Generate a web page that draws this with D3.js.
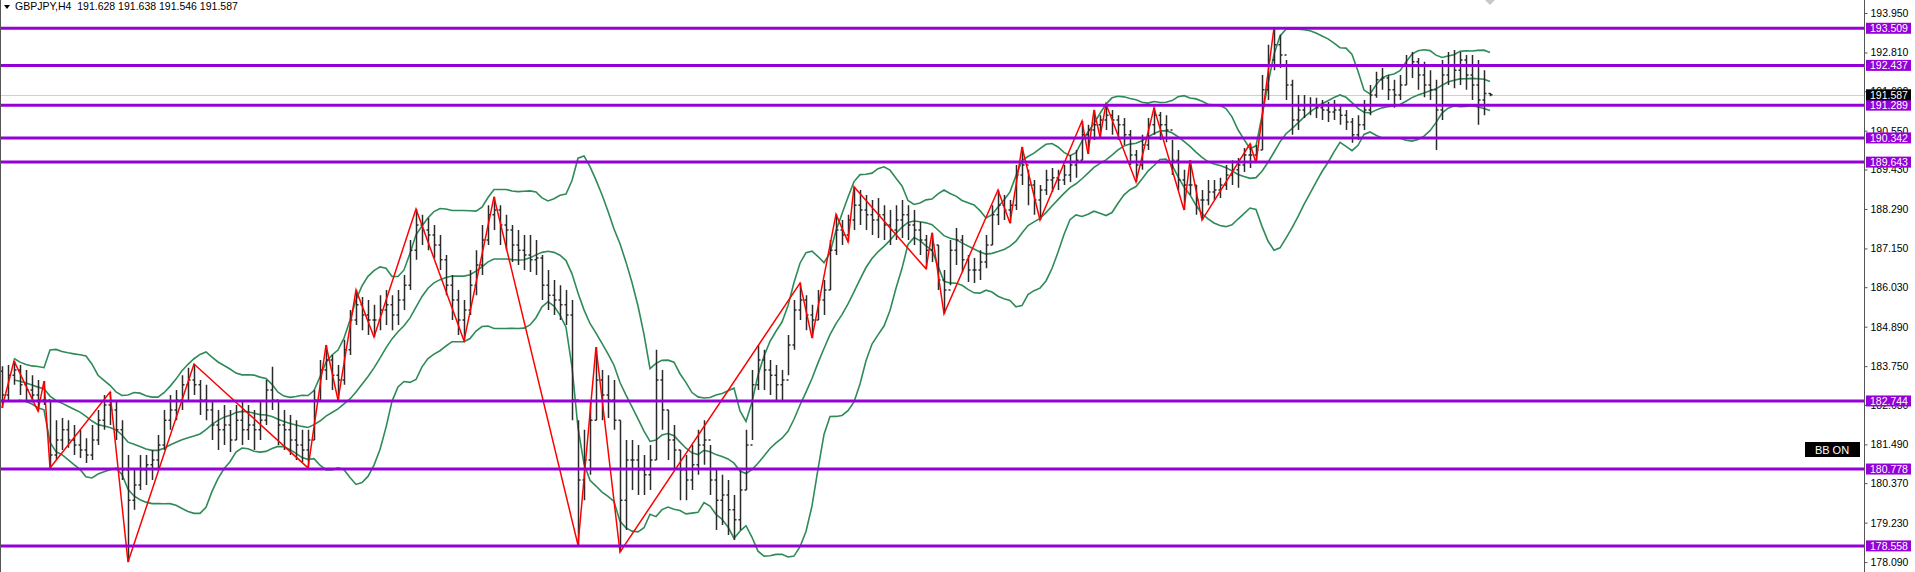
<!DOCTYPE html>
<html>
<head>
<meta charset="utf-8">
<script src="https://cdn.jsdelivr.net/npm/d3@7"></script>
<style>
    html, body { margin: 0; padding: 0; background: #fff; overflow: hidden; }
    svg { display: block; font-family: "Liberation Sans", Arial, sans-serif; }
</style>
</head>
<body>
<div id="Chart"></div>
<script>
var symbolTitle = "GBPJPY,H4";
var lastQuote = [191.628, 191.638, 191.546, 191.587];
var firstOpen = 183.60;

// H4 bars, oldest first
var barHigh = [183.75,183.78,183.90,183.78,183.64,183.49,183.35,183.32,182.77,182.19,
    182.25,182.19,182.05,181.91,181.67,182.05,182.48,182.92,183.00,182.77,
    182.19,181.18,180.75,181.18,181.18,181.33,181.76,182.48,182.92,183.06,
    183.49,183.70,183.81,183.35,183.21,182.77,182.48,182.63,182.48,182.63,
    182.77,182.63,182.48,182.77,183.35,183.73,182.77,182.48,182.34,182.19,
    181.91,181.91,183.06,183.93,184.36,184.07,183.78,184.51,185.37,185.95,
    185.75,185.66,185.52,185.80,185.95,185.80,185.95,186.38,187.39,188.29,
    188.12,188.03,187.83,187.54,186.96,186.38,185.95,185.66,186.53,187.10,
    187.83,188.40,188.64,188.40,188.12,187.83,187.68,187.54,187.54,187.39,
    186.96,186.53,186.24,186.09,185.95,185.66,182.19,181.91,182.77,184.30,
    183.64,183.49,183.35,182.19,181.62,181.62,181.47,181.18,181.47,184.22,
    183.64,182.48,182.05,181.33,181.18,181.47,181.91,182.19,181.47,180.75,
    180.61,180.46,180.03,180.75,181.91,183.64,184.36,184.22,183.93,183.78,
    183.64,184.65,185.66,186.15,185.80,185.52,185.95,186.24,187.39,188.14,
    187.97,188.12,188.93,188.84,188.69,188.55,188.61,188.40,188.26,188.40,
    188.55,188.40,188.26,187.91,187.54,187.60,187.25,186.53,187.39,187.74,
    187.54,186.96,186.87,187.10,187.54,188.40,188.84,188.69,188.55,189.56,
    190.08,189.42,189.13,188.98,189.42,189.47,189.42,189.56,189.85,189.99,
    190.83,190.72,191.15,191.00,191.32,191.15,191.00,190.92,190.57,189.99,
    190.43,190.92,191.21,191.09,191.00,190.28,189.99,189.42,189.70,188.98,
    188.84,189.13,189.13,189.19,189.56,189.70,189.76,190.05,190.17,190.14,
    192.16,193.03,193.52,193.32,192.59,192.02,191.58,191.58,191.52,191.50,
    191.44,191.38,191.44,191.32,191.15,190.92,191.00,191.44,191.87,192.25,
    192.36,192.16,192.02,192.16,192.74,192.82,192.65,192.54,192.30,192.02,
    192.59,192.82,192.88,192.82,192.74,192.74,192.59,192.30,191.638];

var barLow = [182.54,182.77,183.21,182.92,182.77,182.71,182.45,182.63,180.81,181.04,
    181.33,181.39,181.18,181.10,180.95,181.04,181.47,181.91,182.05,181.62,
    180.46,178.09,179.60,180.17,180.32,180.46,180.75,181.33,181.91,182.19,
    182.48,182.77,182.92,182.34,182.19,181.62,181.33,181.47,181.27,181.62,
    181.47,181.62,181.33,181.62,182.05,182.48,181.47,181.33,181.18,181.04,
    180.98,180.81,181.62,182.77,183.35,183.06,182.77,183.21,184.07,184.94,
    184.79,184.65,184.59,184.79,184.94,184.79,184.94,185.37,185.95,186.82,
    187.25,187.10,186.87,186.53,185.80,185.08,184.65,184.48,185.23,185.80,
    186.38,187.25,187.68,187.25,187.10,186.76,186.67,186.53,186.47,186.38,
    185.66,185.37,185.23,185.08,184.94,182.19,178.58,179.88,180.61,182.19,
    182.19,182.25,181.91,178.38,179.02,180.17,180.03,180.03,180.17,181.04,
    181.91,181.04,180.75,179.88,179.88,180.17,180.61,180.90,180.03,179.02,
    179.16,178.87,178.73,179.02,180.17,181.62,183.06,183.06,182.92,182.77,
    182.77,183.49,184.22,185.08,184.79,184.56,185.08,185.23,185.95,186.96,
    187.25,187.34,187.68,187.83,187.68,187.54,187.45,187.39,187.25,187.39,
    187.45,187.39,187.25,186.96,186.56,186.76,185.95,185.26,186.09,186.67,
    186.47,186.18,186.15,186.24,186.58,187.25,187.83,187.97,187.88,188.26,
    188.98,188.40,188.12,187.97,188.69,188.78,188.84,188.98,189.07,189.19,
    189.70,189.88,190.28,190.37,190.57,190.43,190.28,190.14,189.56,189.07,
    189.42,189.99,190.43,190.28,190.22,189.27,188.84,188.26,188.69,188.12,
    187.97,188.40,188.55,188.61,188.84,188.98,188.90,189.36,189.47,189.62,
    189.99,191.44,192.30,192.36,191.44,190.43,190.57,190.92,191.00,190.92,
    190.86,190.80,190.86,190.72,190.57,190.20,190.28,190.57,191.00,191.50,
    191.73,191.44,191.21,191.44,191.87,192.07,191.73,191.52,191.44,189.99,
    190.86,191.87,191.78,191.87,191.73,191.44,190.72,191.00,191.546];

var barClose = [182.92,183.49,183.64,183.21,183.06,182.92,182.77,182.77,181.18,181.62,
    181.91,181.62,181.47,181.33,181.18,181.62,182.19,182.63,182.48,181.91,
    180.75,179.88,180.32,180.75,180.90,181.04,181.47,182.19,182.48,182.77,
    183.21,183.35,183.21,182.77,182.48,182.05,181.91,182.05,181.62,182.19,
    181.91,182.05,181.91,182.19,183.06,182.77,182.05,181.91,181.62,181.47,
    181.33,181.62,182.77,183.64,183.93,183.49,183.35,184.22,185.08,185.52,
    185.23,185.08,185.08,185.37,185.52,185.23,185.66,186.09,187.10,187.83,
    187.68,187.54,187.25,186.82,186.09,185.66,185.08,185.37,186.09,186.67,
    187.39,188.12,188.26,187.83,187.68,187.25,187.10,186.96,186.82,186.87,
    186.09,185.80,185.66,185.52,185.23,182.77,180.46,181.04,182.19,183.35,
    182.92,182.77,182.19,179.88,181.04,181.04,180.75,180.61,181.04,183.35,
    182.48,181.62,181.33,180.75,180.46,180.90,181.47,181.62,180.46,179.88,
    180.03,179.60,179.31,180.17,181.47,183.21,183.93,183.64,183.49,183.21,
    183.35,184.36,185.37,185.66,185.23,185.08,185.66,185.95,187.10,187.68,
    187.54,187.97,188.40,188.26,188.12,187.97,188.12,187.83,187.68,187.97,
    188.12,187.83,187.68,187.39,187.10,187.25,186.24,185.95,187.10,187.39,
    186.82,186.53,186.53,186.76,187.25,188.12,188.40,188.26,188.40,189.27,
    189.56,188.98,188.55,188.84,189.13,189.19,189.13,189.27,189.56,189.70,
    190.43,190.57,190.72,190.86,191.00,190.86,190.72,190.43,189.85,189.56,
    190.14,190.72,191.00,190.72,190.57,189.70,189.13,188.98,188.98,188.55,
    188.55,188.78,188.84,188.98,189.27,189.42,189.56,189.85,189.85,189.99,
    191.73,192.59,193.03,192.74,191.87,190.86,191.15,191.29,191.29,191.21,
    191.15,191.09,191.15,191.00,190.80,190.43,190.72,191.15,191.58,192.02,
    192.07,191.73,191.58,191.87,192.45,192.54,192.16,191.87,191.73,191.15,
    192.16,192.45,192.30,192.59,192.16,191.87,191.44,191.628,191.587];

// zigzag turning points: bar index and whether it is a high or a low
var zzBars  = [0,2,6,7,8,18,21,32,51,54,56,59,62,69,77,82,96,99,103,133,135,139,141,142,
    154,155,157,166,168,170,173,180,181,182,183,184,189,192,197,198,200,208,209,212];
var zzKinds = ["L","H","L","H","L","H","L","H","L","H","L","H","L","H","L","H","L","H","L","H","L","H","L","H",
    "L","H","L","H","L","H","L","H","L","H","L","H","L","H","L","H","L","H","L","H"];

// horizontal levels
var levelPrices = [193.509, 192.437, 191.289, 190.342, 189.643, 182.744, 180.778, 178.558];

// price scale labels
var tickLabels = ["193.950","192.810","191.690","190.550","189.430","188.290","187.150","186.030",
    "184.890","183.750","182.630","181.490","180.370","179.230","178.090"];

var bbPeriod = 14, bbDeviation = 2;
</script>
<script>
(function() {
    var width = 1915,
        height = 572,
        plotRight = 1864;

    var svg = d3.select("#Chart").append("svg")
        .attr("width", width)
        .attr("height", height);

    var yScale = d3.scaleLinear()
        .domain([178.09, 193.95])
        .range([562.1, 13.0]);

    var xScale = d3.scaleLinear()
        .domain([0, barClose.length - 1])
        .range([2, 1490]);

    svg.append("clipPath").attr("id", "plotClip")
        .append("rect")
        .attr("x", 0).attr("y", 0)
        .attr("width", plotRight).attr("height", height);

    var plot = svg.append("g").attr("clip-path", "url(#plotClip)");

    // current bid line
    plot.append("line")
        .attr("x1", 0).attr("x2", plotRight)
        .attr("y1", Math.round(yScale(lastQuote[3])) + 0.5)
        .attr("y2", Math.round(yScale(lastQuote[3])) + 0.5)
        .attr("stroke", "#cfcfcf")
        .attr("stroke-width", 1);

    //bollinger bands from closes
    var bands = [];
    barClose.forEach(function(c, i) {
        if (i < 2) return;
        var w = barClose.slice(Math.max(0, i - bbPeriod + 1), i + 1);
        var m = d3.mean(w);
        var sd = Math.sqrt(d3.mean(w, function(v) { return (v - m) * (v - m); }));
        bands.push({ i: i, mid: m, up: m + bbDeviation * sd, lo: m - bbDeviation * sd });
    });

    ["up", "mid", "lo"].forEach(function(key) {
        var bandLine = d3.line()
            .x(function(d) { return xScale(d.i); })
            .y(function(d) { return yScale(d[key]); });

        plot.append("path")
            .datum(bands)
            .attr("fill", "none")
            .attr("stroke", "#2e8b57")
            .attr("stroke-width", 1.6)
            .attr("d", bandLine);
    });

    // OHLC bars
    plot.append("g")
        .selectAll("path")
        .data(barClose)
        .enter()
        .append("path")
        .attr("fill", "none")
        .attr("stroke", "#2a2a2a")
        .attr("stroke-width", 1.5)
        .attr("d", function(c, i) {
            var bx = Math.round(xScale(i)) + 0.5;
            var open = i === 0 ? firstOpen : (i === barClose.length - 1 ? lastQuote[0] : barClose[i - 1]);
            return "M" + bx + "," + yScale(barHigh[i]) + "V" + yScale(barLow[i]) +
                "M" + (bx - 2) + "," + yScale(open) + "H" + bx +
                "M" + bx + "," + yScale(c) + "H" + (bx + 2);
        });

    // zigzag
    var zigzag = d3.line()
        .x(function(d, k) { return xScale(d); })
        .y(function(d, k) { return yScale(zzKinds[k] === "H" ? barHigh[d] : barLow[d]); });

    plot.append("path")
        .datum(zzBars)
        .attr("fill", "none")
        .attr("stroke", "#ff0000")
        .attr("stroke-width", 1.5)
        .attr("d", zigzag);

    // levels
    plot.selectAll("line.level")
        .data(levelPrices)
        .enter()
        .append("line")
        .attr("class", "level")
        .attr("x1", 0).attr("x2", plotRight)
        .attr("y1", function(d) { return yScale(d); })
        .attr("y2", function(d) { return yScale(d); })
        .attr("stroke", "#9600d8")
        .attr("stroke-width", 3);

    // chart shift marker
    svg.append("path")
        .attr("d", "M" + (xScale(barClose.length - 1) - 5) + ",0L" + (xScale(barClose.length - 1) + 5) + ",0L" + xScale(barClose.length - 1) + ",5Z")
        .attr("fill", "#c8c8c8");

    // left border and price axis
    svg.append("line")
        .attr("x1", 0.5).attr("x2", 0.5).attr("y1", 0).attr("y2", height)
        .attr("stroke", "#555").attr("stroke-width", 1);

    svg.append("line")
        .attr("x1", plotRight + 0.5).attr("x2", plotRight + 0.5).attr("y1", 0).attr("y2", height)
        .attr("stroke", "#555").attr("stroke-width", 1);

    var yAxis = d3.axisRight(yScale)
        .tickValues(tickLabels.map(Number))
        .tickFormat(d3.format(".3f"))
        .tickSize(3)
        .tickPadding(3);

    var axisG = svg.append("g")
        .attr("transform", "translate(" + (plotRight + 0.5) + ",0)")
        .call(yAxis);
    axisG.select(".domain").remove();
    axisG.selectAll(".tick line").attr("stroke", "#555");
    axisG.selectAll(".tick text")
        .attr("fill", "#000")
        .style("font-size", "10.5px")
        .style("font-family", "'Liberation Sans', Arial, sans-serif");

    // level price labels
    var tags = svg.selectAll("g.tag")
        .data(levelPrices.map(function(p) { return { p: p, bg: "#9600d8" }; })
            .concat([{ p: lastQuote[3], bg: "#000" }]))
        .enter()
        .append("g")
        .attr("class", "tag")
        .attr("transform", function(d) { return "translate(" + (plotRight + 2) + "," + yScale(d.p) + ")"; });

    tags.append("rect")
        .attr("x", 0).attr("y", -5.5)
        .attr("width", 45).attr("height", 11)
        .attr("fill", function(d) { return d.bg; });

    tags.append("text")
        .attr("x", 4).attr("y", 4)
        .attr("fill", "#fff")
        .style("font-size", "10.5px")
        .text(function(d) { return d.p.toFixed(3); });

    // BB ON badge
    svg.append("rect")
        .attr("x", 1805).attr("y", 442)
        .attr("width", 55).attr("height", 15)
        .attr("fill", "#000");
    svg.append("text")
        .attr("x", 1832).attr("y", 453.5)
        .attr("text-anchor", "middle")
        .attr("fill", "#fff")
        .style("font-size", "11px")
        .text("BB ON");

    // header
    svg.append("path")
        .attr("d", "M4,5L10,5L7,9Z")
        .attr("fill", "#000");
    svg.append("text")
        .attr("x", 15).attr("y", 10)
        .attr("fill", "#000")
        .style("font-size", "10.5px")
        .attr("xml:space", "preserve")
        .text(symbolTitle + "  " + lastQuote.map(function(v) { return v.toFixed(3); }).join(" "));
})();
</script>
</body>
</html>
